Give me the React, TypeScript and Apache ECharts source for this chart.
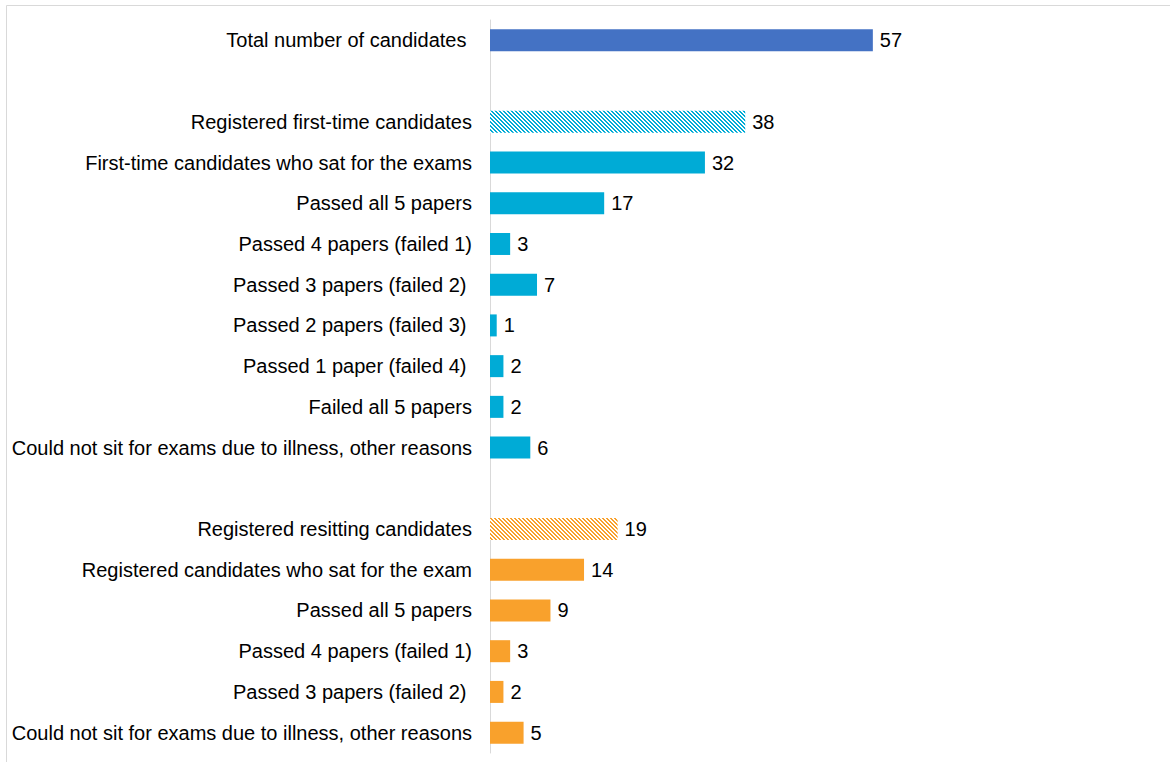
import React, { useEffect, useRef } from "react";
import * as echarts from "echarts";

const categories = [
  "Total number of candidates ",
  "",
  "Registered first-time candidates",
  "First-time candidates who sat for the exams",
  "Passed all 5 papers",
  "Passed 4 papers (failed 1)",
  "Passed 3 papers (failed 2) ",
  "Passed 2 papers (failed 3) ",
  "Passed 1 paper (failed 4) ",
  "Failed all 5 papers",
  "Could not sit for exams due to illness, other reasons",
  " ",
  "Registered resitting candidates",
  "Registered candidates who sat for the exam",
  "Passed all 5 papers",
  "Passed 4 papers (failed 1)",
  "Passed 3 papers (failed 2) ",
  "Could not sit for exams due to illness, other reasons",
];

const values: (number | null)[] = [57, null, 38, 32, 17, 3, 7, 1, 2, 2, 6, null, 19, 14, 9, 3, 2, 5];

// group of each row: 0 total, 1 first-time, 2 resitting
const groups = [0, 0, 1, 1, 1, 1, 1, 1, 1, 1, 1, 2, 2, 2, 2, 2, 2, 2];
const hatched = [false, false, true, false, false, false, false, false, false, false, false, false, true, false, false, false, false, false];

const groupColors = ["#4472C4", "#00ABD6", "#F9A12C"];

function makePattern(color: string) {
  const c = document.createElement("canvas");
  c.width = 8;
  c.height = 8;
  const ctx = c.getContext("2d")!;
  ctx.fillStyle = "#ffffff";
  ctx.fillRect(0, 0, 8, 8);
  ctx.fillStyle = color;
  for (let y = 0; y < 8; y++) {
    for (let x = 0; x < 8; x++) {
      if ((((x - y) % 4) + 4) % 4 < 2) ctx.fillRect(x, y, 1, 1);
    }
  }
  return { image: c, repeat: "repeat" } as any;
}

export default function App() {
  const ref = useRef<HTMLDivElement>(null);
  useEffect(() => {
    const chart = echarts.init(ref.current!, null, { renderer: "svg" });
    const font = "'Liberation Sans', Arial, sans-serif";
    const data = values.map((v, i) => {
      const col = groupColors[groups[i]];
      return {
        value: v,
        itemStyle: { color: hatched[i] ? makePattern(col) : col },
      };
    });
    chart.setOption({
      animation: false,
      backgroundColor: "#ffffff",
      textStyle: { fontFamily: font },
      graphic: [
        {
          type: "rect",
          shape: { x: 6.5, y: 5.5, width: 1300, height: 900 },
          style: { fill: "none", stroke: "#D9D9D9", lineWidth: 1 },
          silent: true,
        },
      ],
      grid: { left: 490, top: 20, height: 733, width: 403, containLabel: false },
      xAxis: {
        type: "value",
        min: 0,
        max: 60,
        show: false,
      },
      yAxis: {
        type: "category",
        inverse: true,
        data: categories,
        axisLine: { show: true, lineStyle: { color: "#D9D9D9", width: 1 } },
        axisTick: { show: false },
        splitLine: { show: false },
        axisLabel: {
          color: "#000000",
          fontSize: 20,
          fontFamily: font,
          margin: 18,
          interval: 0,
          padding: [3, 0, 0, 0],
        },
      },
      series: [
        {
          type: "bar",
          data,
          barWidth: 22,
          label: {
            show: true,
            position: "right",
            distance: 7,
            color: "#000000",
            fontSize: 20,
            fontFamily: font,
            padding: [3, 0, 0, 0],
          },
        },
      ],
    });
    return () => chart.dispose();
  }, []);
  return (
    <div
      ref={ref}
      style={{ position: "fixed", left: 0, top: 0, width: 1170, height: 762 }}
    />
  );
}
